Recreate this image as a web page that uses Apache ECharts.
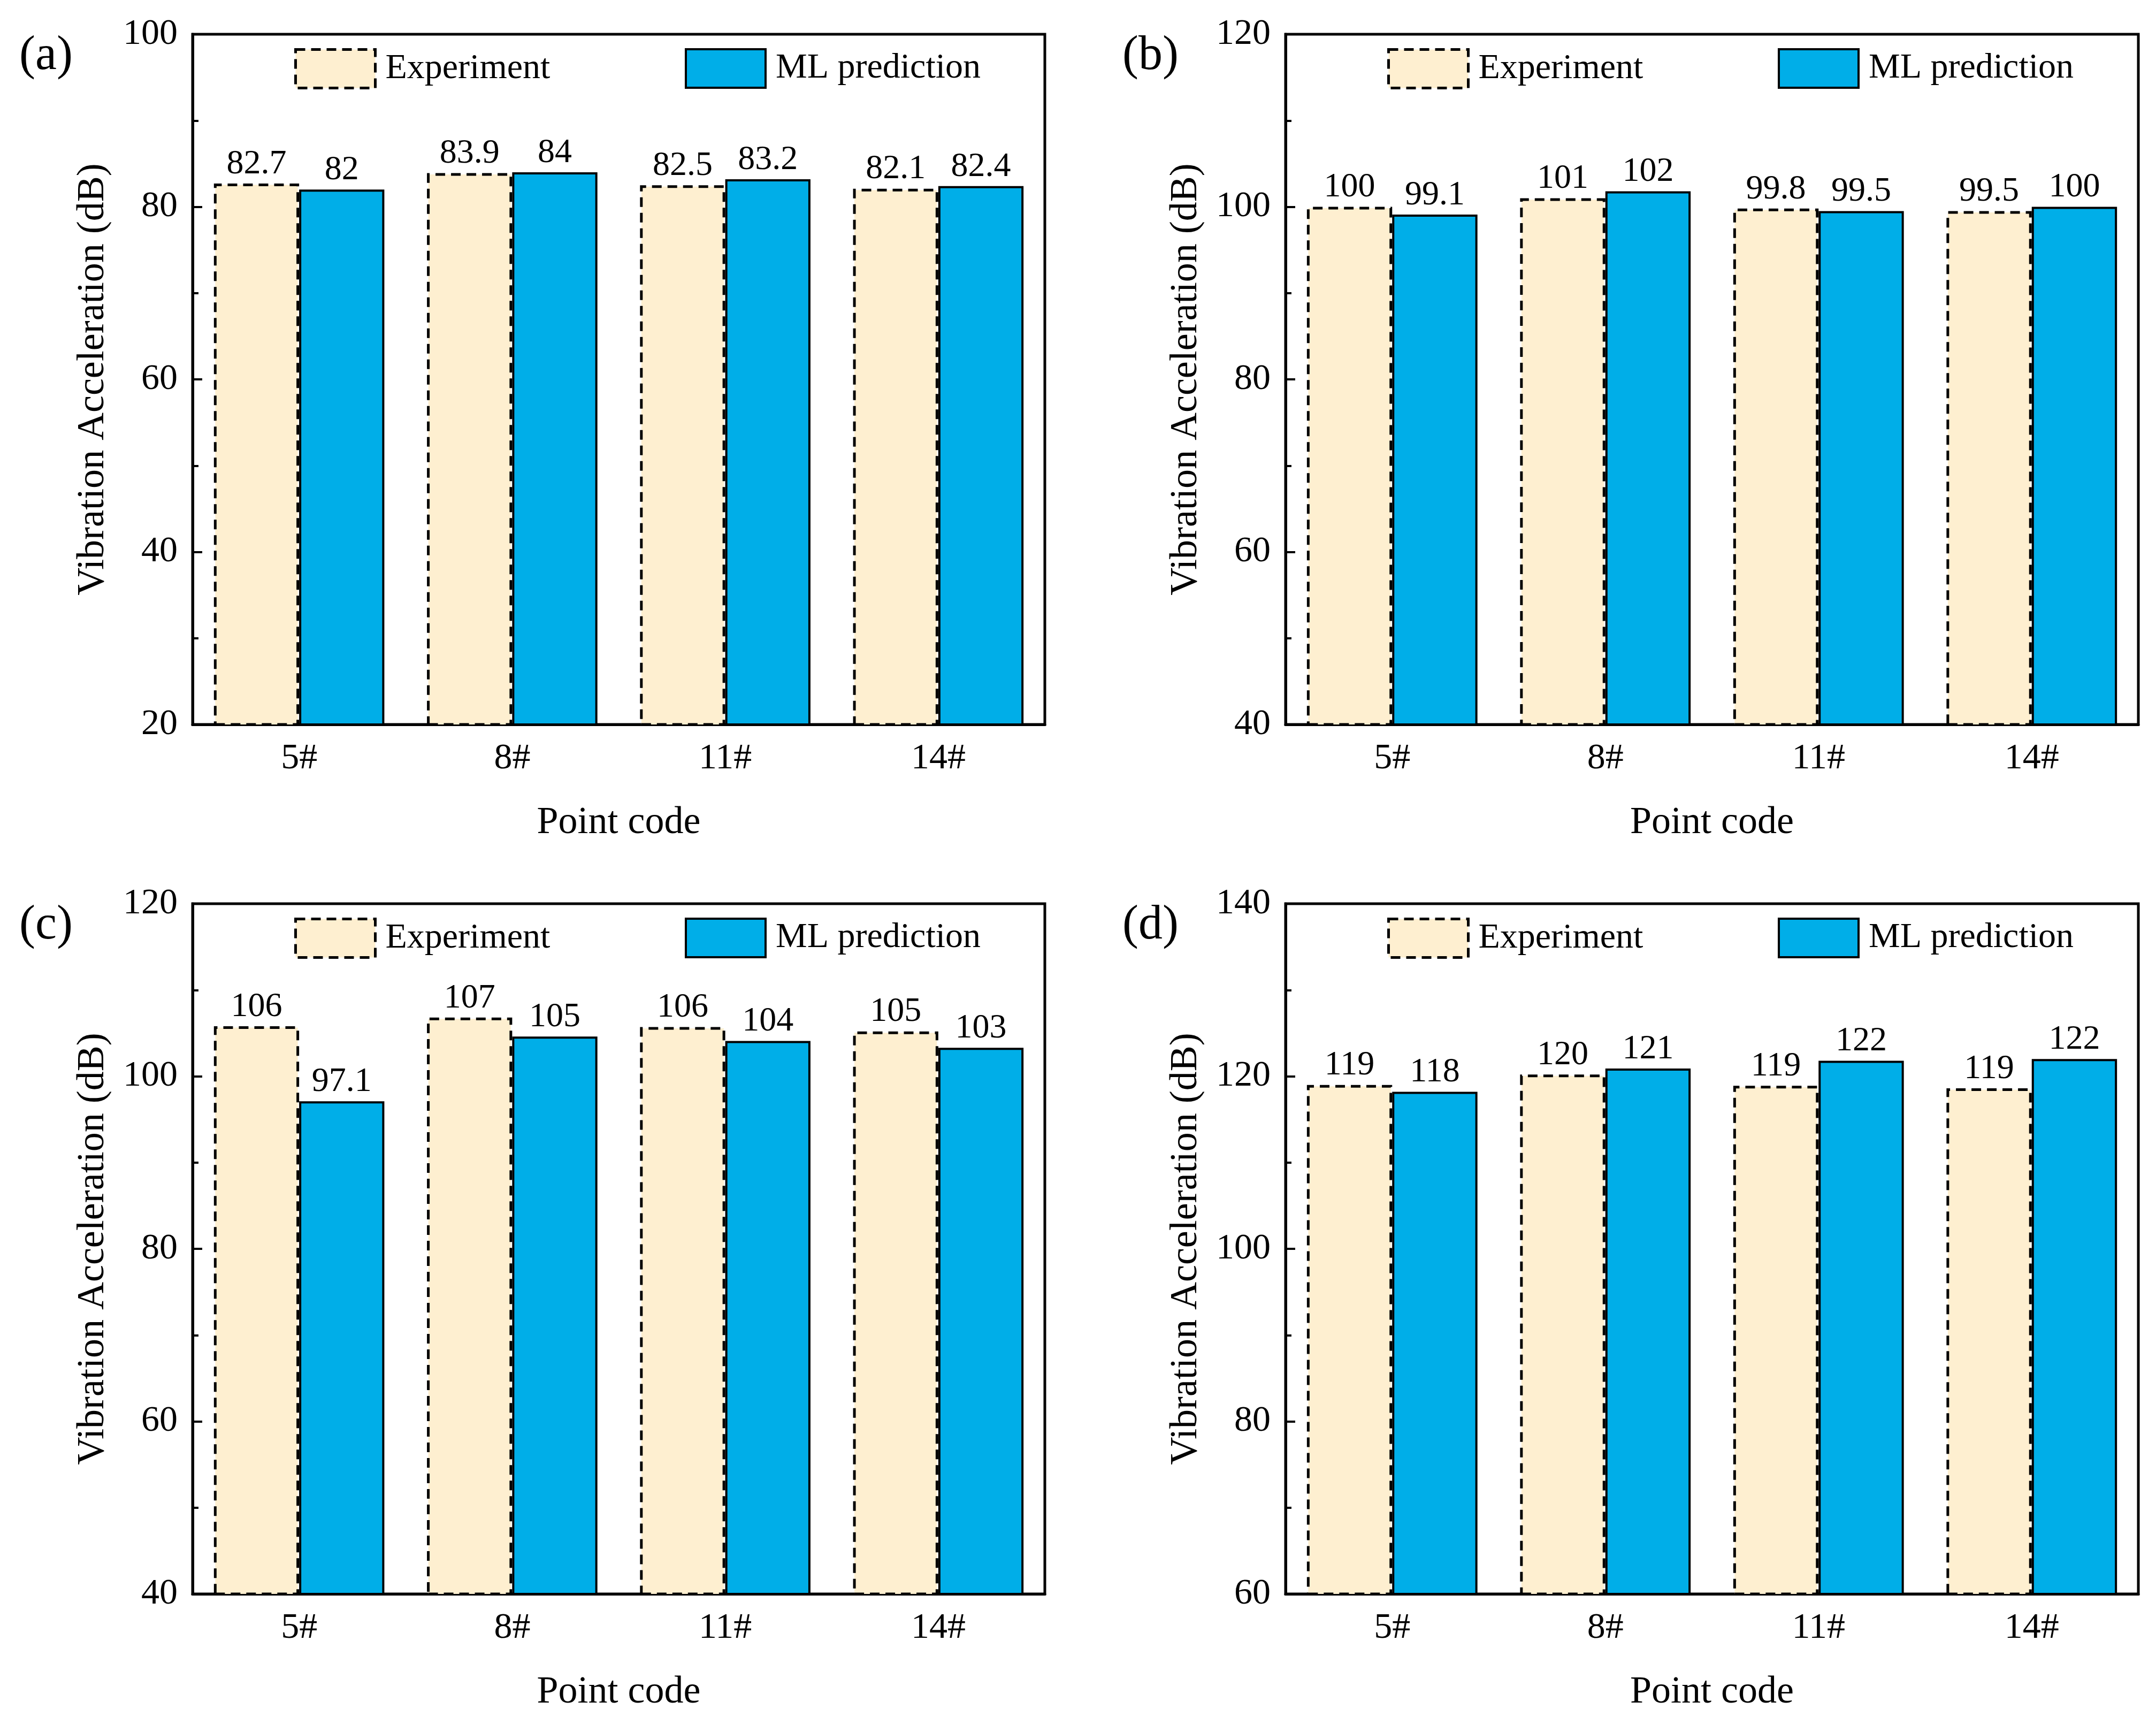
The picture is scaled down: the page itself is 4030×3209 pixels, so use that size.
<!DOCTYPE html>
<html>
<head>
<meta charset="utf-8">
<script src="https://cdn.jsdelivr.net/npm/echarts@6/dist/echarts.min.js"></script>
<style>html,body{margin:0;padding:0;background:#fff;}#c{width:4030px;height:3209px;}</style>
</head>
<body>
<div id="c"></div>
<script>
const categories = ['5#', '8#', '11#', '14#'];
const expA = [82.7, 83.9, 82.5, 82.1];
const mlA  = [82.0, 84.0, 83.2, 82.4];
const expB = [100.0, 101.0, 99.8, 99.5];
const mlB  = [99.1, 101.8, 99.5, 100.0];
const expC = [105.8, 106.8, 105.7, 105.2];
const mlC  = [97.1, 104.6, 104.1, 103.3];
const expD = [119.0, 120.2, 118.9, 118.6];
const mlD  = [118.2, 120.9, 121.8, 122.0];
const yMins = [20, 40, 40, 60];
const yMaxs = [100, 120, 120, 140];
const yInterval = 20;
const panelLabels = ['(a)', '(b)', '(c)', '(d)'];
const seriesNames = ['Experiment', 'ML prediction'];
const xName = 'Point code';
const yName = 'Vibration Acceleration (dB)';

const expData = [expA, expB, expC, expD];
const mlData = [mlA, mlB, mlC, mlD];

const FONT = '"Liberation Serif", "Times New Roman", serif';
const EXP_COLOR = '#FEEFD0';
const ML_COLOR = '#00AEE8';
const DASH = [18, 11];

const grids = [
  {left: 360, top: 64, width: 1593, height: 1290},
  {left: 2403, top: 64, width: 1594, height: 1290},
  {left: 360, top: 1689, width: 1593, height: 1290},
  {left: 2403, top: 1689, width: 1594, height: 1290}
];

const fmt = p => parseFloat(Number(p.value).toPrecision(3)).toString();

const option = {
  backgroundColor: '#fff',
  animation: false,
  textStyle: {fontFamily: FONT, color: '#000'},
  title: [], grid: [], xAxis: [], yAxis: [], series: [], legend: []
};

grids.forEach((g, i) => {
  option.grid.push(Object.assign({show: true, borderColor: '#000', borderWidth: 5, backgroundColor: 'transparent'}, g));
  option.title.push({
    text: panelLabels[i],
    left: (i % 2 === 0) ? 36 : 2098,
    top: g.top - 4,
    padding: 0,
    textStyle: {fontFamily: FONT, fontSize: 90, fontWeight: 'normal', color: '#000'}
  });
  option.xAxis.push({
    type: 'category', gridIndex: i, data: categories,
    name: xName, nameLocation: 'middle', nameGap: 148,
    nameTextStyle: {fontFamily: FONT, fontSize: 72, color: '#000'},
    axisLine: {lineStyle: {color: '#000', width: 5}},
    axisTick: {inside: true, length: 18, lineStyle: {color: '#000', width: 4}},
    axisLabel: {fontFamily: FONT, fontSize: 68, color: '#000', margin: 30},
    splitLine: {show: false}
  });
  option.yAxis.push({
    type: 'value', gridIndex: i, min: yMins[i], max: yMaxs[i], interval: yInterval,
    name: yName, nameLocation: 'middle', nameGap: 150,
    nameTextStyle: {fontFamily: FONT, fontSize: 72, color: '#000'},
    axisLine: {show: true, lineStyle: {color: '#000', width: 5}},
    axisTick: {show: true, inside: true, length: 18, lineStyle: {color: '#000', width: 4}},
    minorTick: {show: true, splitNumber: 2, length: 11, lineStyle: {color: '#000', width: 4}},
    axisLabel: {fontFamily: FONT, fontSize: 68, color: '#000', margin: 28, showMinLabel: true, showMaxLabel: true},
    splitLine: {show: false}
  });
  const labelCfg = {show: true, position: 'top', distance: 4, formatter: fmt,
    fontFamily: FONT, fontSize: 64, color: '#000'};
  option.series.push({
    type: 'bar', name: seriesNames[0], xAxisIndex: i, yAxisIndex: i,
    data: expData[i], barGap: '0%', barCategoryGap: '20%',
    itemStyle: {color: EXP_COLOR, borderColor: '#000', borderWidth: 5, borderType: DASH},
    label: labelCfg
  });
  option.series.push({
    type: 'bar', name: seriesNames[1], xAxisIndex: i, yAxisIndex: i,
    data: mlData[i], barGap: '0%', barCategoryGap: '20%',
    itemStyle: {color: ML_COLOR, borderColor: '#000', borderWidth: 4, borderType: 'solid'},
    label: labelCfg
  });
  option.legend.push({
    left: g.left + 190, top: g.top + 26, padding: 0,
    itemWidth: 149, itemHeight: 72, icon: 'rect',
    selectedMode: false,
    textStyle: {fontFamily: FONT, fontSize: 66, color: '#000', padding: [0, 0, 0, 14]},
    data: [{name: seriesNames[0], itemStyle: {color: EXP_COLOR, borderColor: '#000', borderWidth: 5, borderType: DASH}}]
  });
  option.legend.push({
    left: g.left + 920, top: g.top + 26, padding: 0,
    itemWidth: 149, itemHeight: 72, icon: 'rect',
    selectedMode: false,
    textStyle: {fontFamily: FONT, fontSize: 66, color: '#000', padding: [0, 0, 0, 14]},
    data: [{name: seriesNames[1], itemStyle: {color: ML_COLOR, borderColor: '#000', borderWidth: 4, borderType: 'solid'}}]
  });
});

const chart = echarts.init(document.getElementById('c'), null, {renderer: 'canvas'});
chart.setOption(option);
</script>
</body>
</html>
